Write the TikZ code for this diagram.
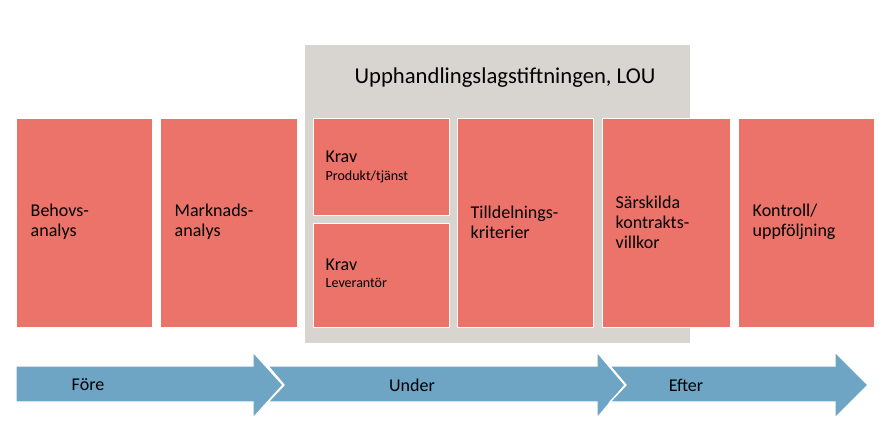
\documentclass[tikz,border=0pt]{standalone}
\usepackage{fontspec}
\setmainfont{Carlito}
\definecolor{salmon}{HTML}{EB7369}
\definecolor{greybg}{HTML}{D8D4D0}
\definecolor{arrowblue}{HTML}{6FA5C4}
\begin{document}
\begin{tikzpicture}[x=0.75pt,y=-0.75pt,
  card/.style={fill=salmon,draw=white,line width=0pt},
  lbl/.style={anchor=west,align=left,font=\fontsize{13.5}{15}\selectfont,text=black},
  arr/.style={fill=arrowblue,draw=white,line width=1pt}]
\useasboundingbox (0,0) rectangle (889,439);
\fill[greybg] (305,45) rectangle (690,343);
\node[font=\fontsize{17}{20}\selectfont] (title) at (505,78) {Upphandlingslagstiftningen, LOU};
\fill[card] (16,118) rectangle (152,327);
\fill[card] (160,118) rectangle (297,327);
\fill[card] (313,118) rectangle (449,215);
\fill[card] (313,223) rectangle (449,327);
\fill[card] (457,118) rectangle (593,327);
\fill[card] (602,118) rectangle (730,327);
\fill[card] (738,118) rectangle (874,327);
\node[lbl] (b1) at (26,222) {Behovs-\\analys};
\node[lbl] (b2) at (170,222) {Marknads-\\analys};
\node[lbl] (k1) at (321,167) {Krav\\[-2pt]{\fontsize{10.5}{12}\selectfont Produkt/tjänst}};
\node[lbl] (k2) at (321,273) {Krav\\[-2pt]{\fontsize{10.5}{12}\selectfont Leverantör}};
\node[lbl] (t) at (466,222) {Tilldelnings-\\kriterier};
\node[lbl] (s) at (611,222) {Särskilda\\kontrakts-\\villkor};
\node[lbl] (kc) at (748,222) {Kontroll/\\uppföljning};
\filldraw[arr] (16,366) -- (253,366) -- (253,352) -- (283,385) -- (253,418) -- (253,402) -- (16,402) -- cycle;
\filldraw[arr] (268,366) -- (597,366) -- (597,352) -- (625,385) -- (597,418) -- (597,402) -- (268,402) -- (284,385) -- cycle;
\filldraw[arr] (610,366) -- (835,366) -- (835,352) -- (868,385) -- (835,418) -- (835,402) -- (610,402) -- (626,385) -- cycle;
\node[lbl,anchor=center] (f) at (88,385) {Före};
\node[lbl,anchor=center] (u) at (412,385) {Under};
\node[lbl,anchor=center] (e) at (686,385) {Efter};
\end{tikzpicture}
\end{document}
